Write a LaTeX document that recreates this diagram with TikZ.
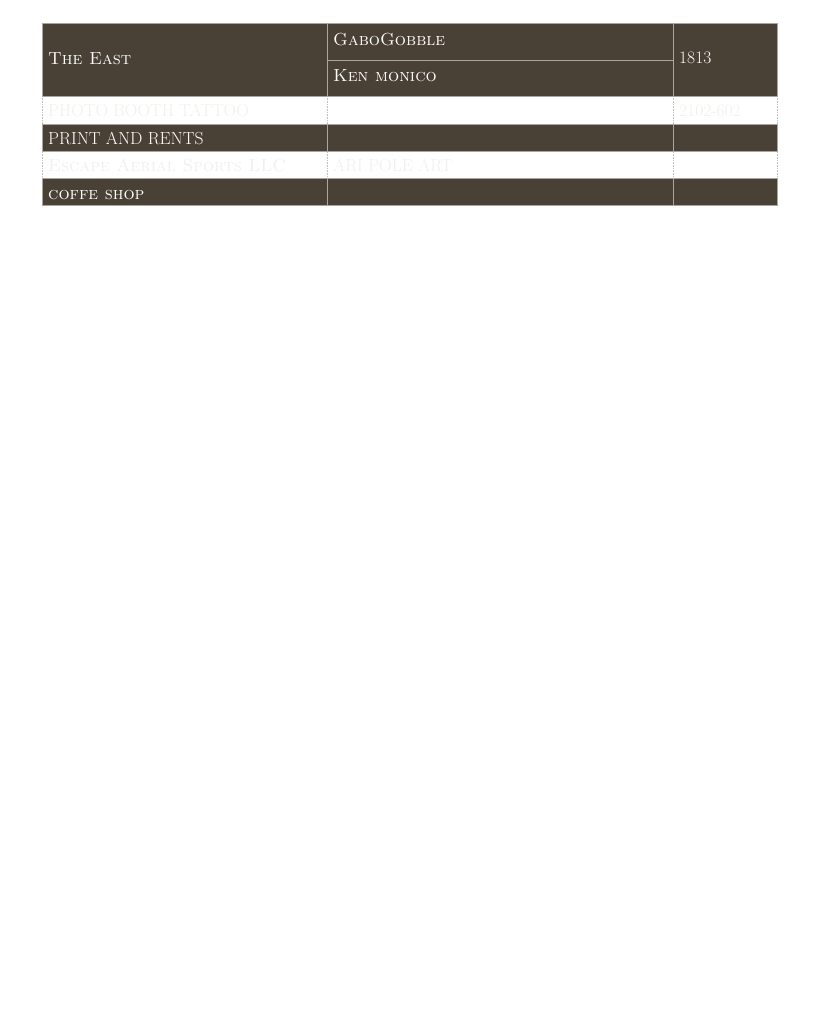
\documentclass[tikz,border=0pt]{standalone}
\usepackage{xcolor}
\usepackage{tikz}
\usetikzlibrary{positioning, calc}
\definecolor{darkbrown}{RGB}{73,64,54}
\definecolor{rulegray}{RGB}{170,165,158}
\definecolor{ghostwhite}{RGB}{240,240,238}

\begin{document}
\begin{tikzpicture}[x=1pt, y=-1pt,
	cell/.style={anchor=base west, inner sep=0pt, text=white, font=\fontsize{17.5}{20}\selectfont},
	ghost/.style={cell, text=ghostwhite},
	solidrule/.style={rulegray, line width=0.9pt},
	dotrule/.style={rulegray!70, line width=0.6pt, densely dotted}]
						\useasboundingbox[fill=white] (0,0) rectangle (819,1024);
						
						%% column edges
						\pgfmathsetmacro{\colA}{42}
						\pgfmathsetmacro{\colB}{327}
						\pgfmathsetmacro{\colC}{673}
						\pgfmathsetmacro{\colD}{777}
						
						%% dark rows
						\fill[darkbrown] (\colA,23) rectangle (\colD,96);
						\fill[darkbrown] (\colA,124) rectangle (\colD,151);
						\fill[darkbrown] (\colA,178) rectangle (\colD,205);
						
						%% rules
						\draw[dotrule] (\colA,96) -- (\colA,178);
						\draw[dotrule] (\colB,96) -- (\colB,178);
						\draw[dotrule] (\colC,96) -- (\colC,178);
						\draw[dotrule] (\colD,96) -- (\colD,178);
						\draw[solidrule] (\colA,23) rectangle (\colD,96);
						\draw[solidrule] (\colB,23) -- (\colB,96);
						\draw[solidrule] (\colC,23) -- (\colC,96);
						\draw[solidrule] (\colB,60) -- (\colC,60);
						\draw[solidrule] (\colA,124) rectangle (\colD,151);
						\draw[solidrule] (\colB,124) -- (\colB,151);
						\draw[solidrule] (\colC,124) -- (\colC,151);
						\draw[solidrule] (\colA,178) rectangle (\colD,205);
						\draw[solidrule] (\colB,178) -- (\colB,205);
						\draw[solidrule] (\colC,178) -- (\colC,205);
						
						%% texts
						\node[cell] (east) at (\colA+6,65) {\textsc{The East}};
						\node[cell] (gabo) at (\colB+6,46) {\textsc{GaboGobble}};
						\node[cell] (ken) at (\colB+6,82) {\textsc{Ken monico}};
						\node[cell] (year) at (\colC+6,64) {1813};
						\node[ghost] (photo) at (\colA+6,117) {PHOTO BOOTH TATTOO};
						\node[ghost] (code) at (\colC+6,117) {2102-602};
						\node[cell] (print) at (\colA+6,145) {PRINT AND RENTS};
						\node[ghost] (escape) at (\colA+6,172) {\textsc{Escape Aerial Sports LLC}};
						\node[ghost] (pole) at (\colB+6,172) {ARI POLE ART};
						\node[cell] (coffe) at (\colA+6,200) {\textsc{coffe shop}};
\end{tikzpicture}
\end{document}
